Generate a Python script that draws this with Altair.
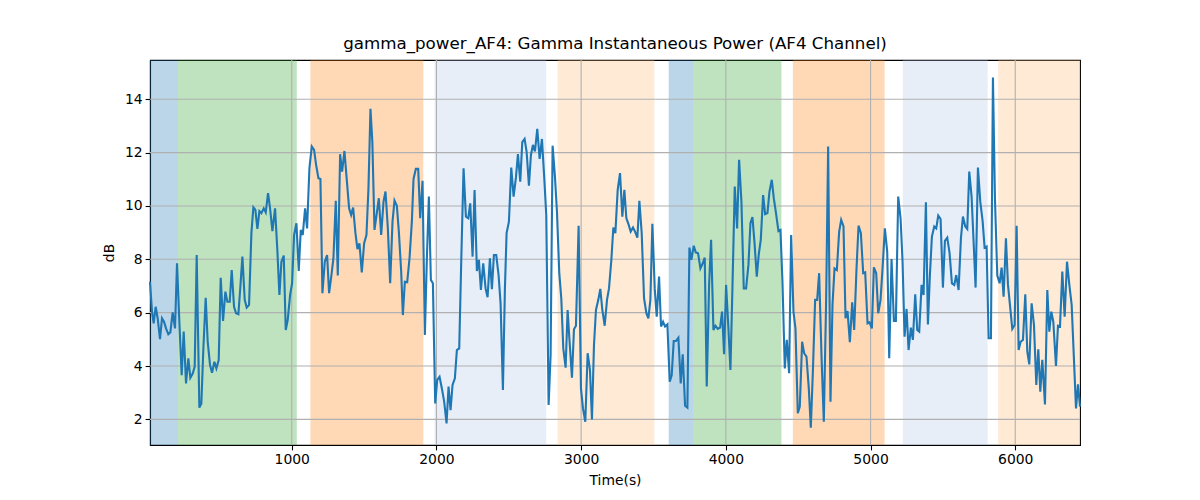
import altair as alt
import pandas as pd

# ---- data ----
time_s = [20.5, 34.3, 45.8, 59.6, 73.5, 89.6, 103.4, 117.3, 131.1, 147.2, 161.1, 177.2, 193.3, 207.2,
          223.3, 239.4, 253.3, 269.4, 285.5, 299.4, 315.5, 329.3, 343.2, 361.6, 375.4, 389.3, 405.4,
          419.2, 435.4, 449.2, 465.3, 479.2, 495.3, 509.1, 525.3, 541.4, 555.2, 571.4, 585.2, 601.3,
          615.2, 631.3, 645.1, 659.0, 675.1, 688.9, 705.0, 721.2, 735.0, 748.8, 762.7, 776.5, 790.3,
          806.5, 820.3, 836.4, 850.3, 866.4, 884.8, 901.0, 914.8, 928.6, 944.8, 958.6, 972.4, 988.6,
          1002.4, 1016.2, 1032.4, 1048.5, 1062.3, 1076.1, 1092.3, 1106.1, 1122.2, 1138.4, 1154.5,
          1168.4, 1184.5, 1198.3, 1212.1, 1228.3, 1244.4, 1258.2, 1274.4, 1288.2, 1304.3, 1318.2,
          1334.3, 1348.1, 1364.3, 1380.4, 1396.5, 1410.4, 1424.2, 1440.3, 1454.2, 1468.0, 1484.1,
          1500.3, 1516.4, 1530.2, 1544.1, 1557.0, 1572.0, 1601.9, 1618.1, 1634.2, 1648.0, 1664.2,
          1680.3, 1696.4, 1710.3, 1726.4, 1740.2, 1756.4, 1767.9, 1781.7, 1797.9, 1814.0, 1830.1,
          1841.7, 1857.8, 1873.9, 1887.8, 1903.9, 1920.0, 1933.9, 1947.7, 1961.5, 1975.4, 1991.5,
          2005.3, 2021.5, 2037.6, 2053.7, 2069.9, 2083.7, 2097.5, 2111.3, 2127.5, 2141.3, 2157.4,
          2171.3, 2187.4, 2203.6, 2219.7, 2233.5, 2249.7, 2263.5, 2279.6, 2293.4, 2307.3, 2323.4,
          2339.5, 2353.4, 2369.5, 2383.3, 2397.2, 2413.3, 2429.4, 2443.3, 2459.4, 2473.2, 2484.8,
          2500.9, 2517.0, 2533.2, 2549.3, 2563.1, 2579.3, 2593.1, 2609.2, 2623.1, 2639.2, 2653.0,
          2666.9, 2680.7, 2696.8, 2713.0, 2729.1, 2745.2, 2759.1, 2775.2, 2789.0, 2802.8, 2819.0,
          2832.8, 2848.9, 2862.8, 2876.6, 2892.7, 2906.6, 2920.4, 2936.5, 2950.4, 2964.2, 2982.6,
          2998.8, 3012.6, 3028.7, 3044.9, 3061.0, 3074.8, 3088.7, 3102.5, 3118.6, 3132.5, 3146.5,
          3162.7, 3178.8, 3192.6, 3208.8, 3222.6, 3236.5, 3252.6, 3268.7, 3284.8, 3298.7, 3312.5,
          3328.6, 3342.5, 3358.6, 3372.4, 3388.6, 3402.4, 3418.5, 3434.7, 3450.8, 3464.6, 3478.5,
          3492.3, 3508.5, 3522.3, 3538.4, 3552.2, 3566.1, 3579.9, 3596.0, 3612.2, 3626.0, 3639.8,
          3656.0, 3672.1, 3688.2, 3702.0, 3718.2, 3734.3, 3748.2, 3762.0, 3778.1, 3791.9, 3808.1,
          3824.2, 3840.4, 3854.2, 3868.0, 3884.2, 3898.0, 3914.2, 3928.0, 3944.2, 3960.3, 3974.0,
          3987.9, 4001.7, 4017.8, 4031.7, 4045.5, 4061.6, 4077.8, 4091.6, 4107.7, 4123.9, 4140.0,
          4156.1, 4170.0, 4183.8, 4197.6, 4213.8, 4227.6, 4241.4, 4257.6, 4271.4, 4287.5, 4301.4,
          4317.5, 4331.3, 4347.5, 4363.6, 4377.4, 4391.2, 4407.4, 4421.2, 4437.3, 4451.2, 4467.3,
          4481.1, 4497.3, 4511.1, 4527.2, 4541.1, 4557.2, 4573.3, 4587.2, 4601.0, 4617.1, 4631.0,
          4644.8, 4660.9, 4677.0, 4693.2, 4707.0, 4723.1, 4737.0, 4751.0, 4767.1, 4783.2, 4797.1,
          4813.2, 4827.1, 4840.9, 4857.0, 4873.2, 4887.0, 4903.1, 4917.0, 4933.1, 4949.2, 4963.0,
          4979.2, 4993.0, 5009.1, 5023.0, 5039.1, 5053.0, 5069.1, 5082.9, 5099.0, 5115.2, 5129.0,
          5145.1, 5161.3, 5175.1, 5191.2, 5207.4, 5221.2, 5235.0, 5248.9, 5262.7, 5278.8, 5292.6,
          5308.8, 5322.6, 5336.4, 5352.6, 5366.4, 5382.6, 5396.4, 5410.2, 5424.0, 5440.2, 5454.0,
          5467.8, 5484.0, 5500.1, 5514.0, 5530.1, 5546.2, 5562.4, 5578.5, 5592.3, 5608.5, 5624.6,
          5638.4, 5654.6, 5668.4, 5682.2, 5698.3, 5712.2, 5726.0, 5742.1, 5758.3, 5774.4, 5788.2,
          5802.1, 5815.9, 5832.0, 5845.8, 5859.7, 5875.8, 5892.0, 5905.8, 5919.6, 5935.7, 5949.6,
          5965.8, 5979.6, 5995.7, 6009.5, 6023.3, 6037.2, 6053.3, 6069.4, 6083.3, 6097.1, 6113.2,
          6129.4, 6145.5, 6159.3, 6173.2, 6187.0, 6205.4, 6221.6, 6235.4, 6249.2, 6263.1, 6281.5,
          6295.3, 6309.2, 6325.3, 6341.4, 6357.6, 6373.8, 6389.9, 6419.9, 6433.6, 6447.5]

power_db = [7.16, 6.04, 5.6, 6.22, 5.79, 5.01, 5.79, 5.66, 5.41, 5.19, 5.26, 6.01, 5.41, 7.85,
            5.66, 3.66, 5.29, 3.35, 4.29, 3.56, 3.72, 3.97, 8.16, 2.44, 2.6, 4.66, 6.56,
            4.91, 4.04, 3.75, 4.16, 3.91, 4.22, 7.31, 5.69, 6.79, 6.41, 6.41, 7.6, 6.22,
            5.98, 5.94, 6.98, 8.1, 6.48, 6.19, 6.29, 8.98, 9.95, 9.85, 9.14, 9.81, 9.73,
            9.91, 9.76, 10.48, 9.91, 9.06, 9.91, 8.29, 6.66, 7.91, 8.14, 5.35, 5.73, 6.66,
            7.1, 8.91, 9.35, 7.56, 9.1, 8.91, 9.91, 9.16, 11.41, 12.23, 12.1,
            11.54, 11.04, 11.01, 6.73, 7.91, 8.16, 6.73, 7.41, 8.04, 10.19, 7.39,
            11.94, 11.29, 12.06, 10.98, 9.91, 9.66, 9.94, 8.98, 8.38, 8.6, 7.51,
            8.6, 8.91, 10.66, 13.64, 12.41, 9.1, 10.29, 8.91, 10.16, 10.54, 9.16,
            7.1, 9.41, 10.2, 10.01, 9.04, 7.54, 5.91, 7.16, 7.14, 8.04, 9.41,
            11.01, 11.39, 11.39, 9.54, 10.94, 5.16, 8.04, 10.35, 7.23, 7.1, 2.6,
            3.48, 3.6, 3.16, 2.66, 1.85, 3.23, 2.35, 3.29, 3.54, 4.6, 4.66,
            7.91, 11.41, 9.6, 9.54, 10.1, 8.1, 10.6, 7.56, 7.98, 6.85, 7.85,
            6.91, 6.58, 8.04, 6.88, 8.16, 8.16, 7.41, 6.35, 3.1, 6.91, 8.98,
            9.41, 11.44, 10.35, 11.06, 11.94, 10.91, 12.39, 12.51, 12.04, 10.76, 11.91,
            12.29, 12.04, 12.89, 11.76, 12.51, 11.04, 9.66, 2.54, 4.41, 12.26, 11.1,
            9.79, 7.48, 6.54, 4.66, 3.94, 6.1, 4.89, 3.56, 5.38, 5.51, 9.26,
            3.16, 2.41, 1.91, 4.48, 3.85, 2.0, 4.79, 6.1, 6.48, 6.89, 6.1,
            5.51, 6.48, 6.91, 7.98, 9.19, 8.98, 10.6, 11.23, 9.6, 10.6, 9.54,
            9.29, 9.04, 9.19, 9.04, 8.81, 10.19, 8.98, 6.54, 5.98, 5.79, 6.48,
            9.33, 6.91, 5.85, 7.35, 5.48, 5.66, 5.48, 5.56, 3.41, 3.66, 4.94,
            4.94, 5.06, 3.35, 4.44, 2.51, 2.44, 8.44, 7.98, 8.51, 8.26, 8.23,
            7.66, 7.85, 8.06, 3.23, 7.04, 8.73, 5.35, 5.51, 5.39, 5.44, 6.04,
            4.44, 7.04, 5.41, 3.85, 6.91, 10.73, 9.16, 11.73, 10.16, 6.91, 6.91,
            7.79, 9.35, 9.58, 8.66, 7.35, 8.19, 8.73, 10.41, 9.69, 9.73, 10.54,
            10.98, 10.29, 9.69, 9.06, 9.1, 7.16, 3.91, 4.98, 3.73, 8.91, 6.04,
            5.41, 2.23, 2.48, 4.91, 4.48, 4.35, 3.16, 1.69, 3.73, 6.48, 6.48,
            7.48, 4.41, 1.91, 6.48, 12.23, 2.66, 6.29, 7.66, 7.6, 9.04, 9.48,
            9.23, 5.79, 6.06, 4.89, 6.39, 5.35, 7.66, 9.26, 8.98, 7.48, 7.51,
            5.6, 5.64, 5.41, 7.7, 7.48, 5.98, 6.48, 7.66, 9.16, 8.29, 4.29,
            8.01, 5.69, 5.69, 10.35, 9.54, 7.91, 5.1, 6.14, 4.6, 5.44, 4.98,
            6.69, 5.35, 5.29, 7.04, 6.66, 10.14, 5.56, 7.41, 8.85, 9.23, 9.16,
            9.64, 9.51, 6.94, 8.69, 8.81, 8.23, 7.1, 7.04, 7.41, 6.85, 8.79,
            9.6, 9.23, 9.14, 11.29, 10.35, 8.66, 6.94, 11.44, 10.16, 9.44, 8.44,
            8.48, 5.04, 5.04, 14.81, 10.29, 7.39, 7.1, 7.69, 6.6, 8.79, 7.06,
            6.16, 5.39, 5.54, 9.26, 4.6, 4.91, 4.98, 6.69, 4.54, 4.06, 6.35,
            5.54, 3.29, 4.63, 3.04, 4.23, 2.56, 6.85, 5.29, 6.04, 5.66, 4.0,
            5.51, 5.48, 7.54, 5.85, 7.91, 7.04, 6.29, 2.41, 3.31, 2.48]

span_start = [20.5, 214, 1129, 1987, 2837, 3605, 3776, 4463, 5223, 5882]
span_end = [214, 1035, 1909, 2759, 3506, 3776, 4384, 5097, 5809, 6447.5]
span_kind = ["s0", "s1", "s2", "s3", "s4", "s0", "s1", "s2", "s3", "s4"]
span_colors = ["#1f77b4", "#2ca02c", "#ff7f0e", "#aec7e8", "#ffbb78"]

x_ticks = [1000, 2000, 3000, 4000, 5000, 6000]
y_ticks = [2, 4, 6, 8, 10, 12, 14]

line_df = pd.DataFrame({"t": time_s, "db": power_db})
span_df = pd.DataFrame({"start": span_start, "end": span_end, "kind": span_kind})
xg_df = pd.DataFrame({"v": x_ticks})
yg_df = pd.DataFrame({"v": y_ticks})

xdom = [20.5, 6447.5]
ydom = [1.04, 15.47]
xscale = alt.Scale(domain=xdom, nice=False, zero=False)
yscale = alt.Scale(domain=ydom, nice=False, zero=False)
xaxis = alt.Axis(values=x_ticks, format="d", grid=False, title="Time(s)")
yaxis = alt.Axis(values=y_ticks, format="d", grid=False, title="dB")

spans = alt.Chart(span_df).mark_rect(opacity=0.3).encode(
    x=alt.X("start:Q", scale=xscale, axis=xaxis),
    x2="end:Q",
    y=alt.value(0),
    y2=alt.value(385),
    color=alt.Color("kind:N", scale=alt.Scale(domain=["s0", "s1", "s2", "s3", "s4"], range=span_colors), legend=None),
)

xgrid = alt.Chart(xg_df).mark_rule(color="#b0b0b0", strokeWidth=1.1).encode(
    x=alt.X("v:Q", scale=xscale, axis=xaxis)
)
ygrid = alt.Chart(yg_df).mark_rule(color="#b0b0b0", strokeWidth=1.1).encode(
    y=alt.Y("v:Q", scale=yscale, axis=yaxis)
)

line = alt.Chart(line_df).mark_line(color="#1f77b4", strokeWidth=2.1).encode(
    x=alt.X("t:Q", scale=xscale, axis=xaxis),
    y=alt.Y("db:Q", scale=yscale, axis=yaxis),
)

chart = alt.layer(spans, xgrid, ygrid, line).properties(
    width=930,
    height=385,
    autosize=alt.AutoSizeParams(type="none"),
    padding={"left": 142, "top": 52, "right": 112, "bottom": 47},
    title=alt.Title("gamma_power_AF4: Gamma Instantaneous Power (AF4 Channel)",
                    font="DejaVu Sans", fontSize=16.7, fontWeight="normal", color="black", offset=7),
).configure_view(stroke="black", strokeWidth=1.1).configure_axis(
    domainColor="black", domainWidth=1.1, tickColor="black", tickSize=4.9, tickWidth=1.1,
    labelFont="DejaVu Sans", labelFontSize=13.9, labelColor="black", labelPadding=3,
    titleFont="DejaVu Sans", titleFontSize=13.9, titleFontWeight="normal", titleColor="black",
).configure_axisX(titlePadding=7).configure_axisY(titlePadding=8)

chart.save("out.html", embed_options={"renderer": "svg", "actions": False})
